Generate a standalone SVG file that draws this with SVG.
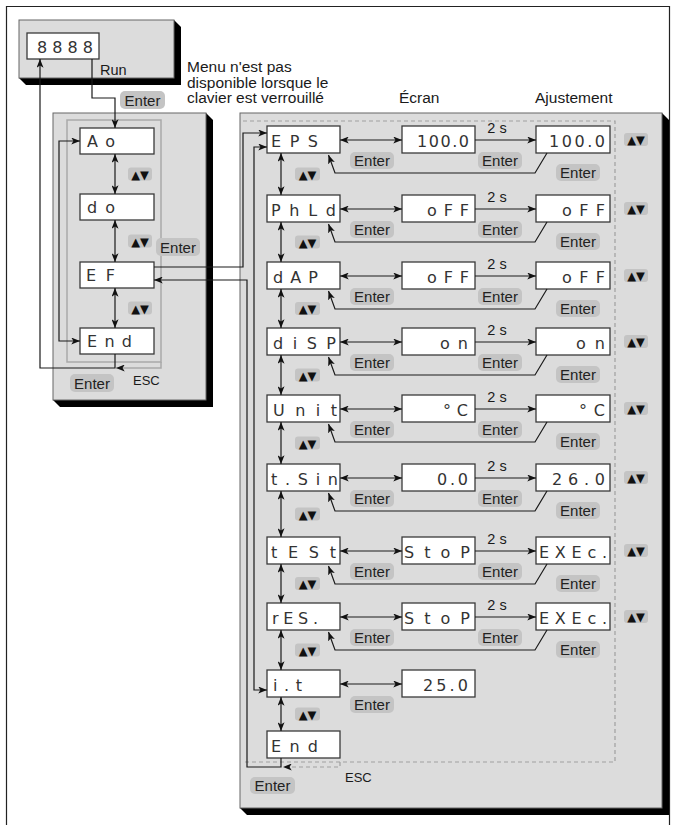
<svg xmlns="http://www.w3.org/2000/svg" width="676" height="825" viewBox="0 0 676 825">
<defs>
<style>
.frame{fill:none;stroke:#222;stroke-width:1.2}
.panel{fill:#dcdcdc;stroke:#666;stroke-width:1}
.shadow{fill:#000}
.box{fill:#fff;stroke:#3a3a3a;stroke-width:1.3}
.lcd{font-family:"DejaVu Sans",sans-serif;font-size:16px;fill:#333}
.lbl{font-family:"Liberation Sans",Arial,sans-serif;fill:#1a1a1a}
.badge{fill:#c4c4c4}
.btn{font-family:"Liberation Sans",Arial,sans-serif;font-size:15px;fill:#222;text-anchor:middle}
.tri{font-family:"DejaVu Sans",sans-serif;font-size:11.5px;fill:#111;text-anchor:middle}
.ln{fill:none;stroke:#1a1a1a;stroke-width:1.2}
.a{marker-end:url(#ah)}
.aa{marker-start:url(#ah);marker-end:url(#ah)}
.gray{fill:none;stroke:#a9a9a9;stroke-width:1.5}
.dash{fill:none;stroke:#a0a0a0;stroke-width:1.2;stroke-dasharray:4 3}
</style>
<marker id="ah" viewBox="0 0 10 8" refX="10" refY="4" markerWidth="9" markerHeight="7" markerUnits="userSpaceOnUse" orient="auto-start-reverse">
<path d="M0,0 L10,4 L0,8 L2.5,4 z" fill="#111"/>
</marker>
</defs>
<rect width="676" height="825" fill="#fff"/>
<path class="frame" d="M6.5,825 V6.5 H669.5 V825"/>

<!-- Panels -->
<g id="panel-run">
<polygon class="shadow" points="174,20 181,27 181,85 26,85 19,78"/>
<rect class="panel" x="19" y="20" width="155" height="58"/>
</g>
<g id="panel-menu">
<polygon class="shadow" points="206,113 213,120 213,407 60,407 53,400"/>
<rect class="panel" x="53" y="113" width="153" height="287"/>
<path class="gray" d="M115,362 H67 V120 H161 V362 H115"/>
</g>
<g id="panel-ef">
<polygon class="shadow" points="662,113 669,120 669,815 247,815 240,808"/>
<rect class="panel" x="240" y="113" width="422" height="695"/>
<path class="dash" d="M243,121 H615 V762 H243"/>
</g>

<!-- Labels -->
<g id="labels" class="lbl">
<text x="187" y="71.5" font-size="15.5">Menu n'est pas</text>
<text x="187" y="87.5" font-size="15.5">disponible lorsque le</text>
<text x="187" y="103" font-size="15.5">clavier est verrouillé</text>
<text x="399" y="103" font-size="15.5">Écran</text>
<text x="535" y="103" font-size="15.5">Ajustement</text>
<text x="100" y="75" font-size="14.5">Run</text>
<text x="133" y="385" font-size="13">ESC</text>
<text x="345" y="782" font-size="13">ESC</text>
</g>

<!-- Nodes: top display and main menu -->
<g id="n-8888"><rect class="box" x="27" y="33" width="72" height="26"/><text class="lcd" x="37" y="53" textLength="56">8888</text></g>
<g id="n-ao"><rect class="box" x="80" y="128" width="74" height="26"/><text class="lcd" x="87" y="147" textLength="28">Ao</text></g>
<g id="n-do"><rect class="box" x="80" y="194" width="74" height="26"/><text class="lcd" x="87" y="213" textLength="28">do</text></g>
<g id="n-ef"><rect class="box" x="80" y="262" width="74" height="26"/><text class="lcd" x="86" y="281" textLength="29">EF</text></g>
<g id="n-end1"><rect class="box" x="80" y="328" width="74" height="26"/><text class="lcd" x="87" y="347" textLength="45">End</text></g>

<!-- Nodes: EF column -->
<g id="n-eps"><rect class="box" x="267" y="126" width="73" height="27"/><text class="lcd" x="271" y="146.5" textLength="47">EPS</text></g>
<g id="n-eps-s"><rect class="box" x="402" y="126" width="73" height="27"/><text class="lcd" x="417" y="146.5" textLength="52">100.0</text></g>
<g id="n-eps-a"><rect class="box" x="536" y="126" width="74" height="27"/><text class="lcd" x="549" y="146.5" textLength="56">100.0</text></g>

<g id="n-phld"><rect class="box" x="267" y="195" width="73" height="27"/><text class="lcd" x="271" y="215.5" textLength="65">PhLd</text></g>
<g id="n-phld-s"><rect class="box" x="402" y="195" width="73" height="27"/><text class="lcd" x="427" y="215.5" textLength="42">oFF</text></g>
<g id="n-phld-a"><rect class="box" x="536" y="195" width="74" height="27"/><text class="lcd" x="562" y="215.5" textLength="43">oFF</text></g>

<g id="n-dap"><rect class="box" x="267" y="262" width="73" height="27"/><text class="lcd" x="273" y="282.5" textLength="45">dAP</text></g>
<g id="n-dap-s"><rect class="box" x="402" y="262" width="73" height="27"/><text class="lcd" x="427" y="282.5" textLength="42">oFF</text></g>
<g id="n-dap-a"><rect class="box" x="536" y="262" width="74" height="27"/><text class="lcd" x="562" y="282.5" textLength="43">oFF</text></g>

<g id="n-disp"><rect class="box" x="267" y="328" width="73" height="27"/><text class="lcd" x="273" y="348.5" textLength="63">diSP</text></g>
<g id="n-disp-s"><rect class="box" x="402" y="328" width="73" height="27"/><text class="lcd" x="440" y="348.5" textLength="28">on</text></g>
<g id="n-disp-a"><rect class="box" x="536" y="328" width="74" height="27"/><text class="lcd" x="576" y="348.5" textLength="29">on</text></g>

<g id="n-unit"><rect class="box" x="267" y="395" width="73" height="27"/><text class="lcd" x="273" y="415.5" textLength="64">Unit</text></g>
<g id="n-unit-s"><rect class="box" x="402" y="395" width="73" height="27"/><text class="lcd" x="443" y="415.5" textLength="25">°C</text></g>
<g id="n-unit-a"><rect class="box" x="536" y="395" width="74" height="27"/><text class="lcd" x="579" y="415.5" textLength="26">°C</text></g>

<g id="n-tsin"><rect class="box" x="267" y="464" width="73" height="27"/><text class="lcd" x="271" y="484.5" textLength="67">t.Sin</text></g>
<g id="n-tsin-s"><rect class="box" x="402" y="464" width="73" height="27"/><text class="lcd" x="437" y="484.5" textLength="31">0.0</text></g>
<g id="n-tsin-a"><rect class="box" x="536" y="464" width="74" height="27"/><text class="lcd" x="552" y="484.5" textLength="53">26.0</text></g>

<g id="n-test"><rect class="box" x="267" y="537" width="73" height="27"/><text class="lcd" x="271" y="557.5" textLength="65">tESt</text></g>
<g id="n-test-s"><rect class="box" x="402" y="537" width="73" height="27"/><text class="lcd" x="404" y="557.5" textLength="66">StoP</text></g>
<g id="n-test-a"><rect class="box" x="536" y="537" width="74" height="27"/><text class="lcd" x="539" y="557.5" textLength="68">EXEc.</text></g>

<g id="n-res"><rect class="box" x="267" y="603" width="73" height="27"/><text class="lcd" x="272" y="623.5" textLength="46">rES.</text></g>
<g id="n-res-s"><rect class="box" x="402" y="603" width="73" height="27"/><text class="lcd" x="404" y="623.5" textLength="66">StoP</text></g>
<g id="n-res-a"><rect class="box" x="536" y="603" width="74" height="27"/><text class="lcd" x="539" y="623.5" textLength="68">EXEc.</text></g>

<g id="n-it"><rect class="box" x="267" y="670" width="73" height="27"/><text class="lcd" x="273" y="690.5" textLength="29">i.t</text></g>
<g id="n-it-s"><rect class="box" x="402" y="670" width="73" height="27"/><text class="lcd" x="423" y="690.5" textLength="45">25.0</text></g>

<g id="n-end2"><rect class="box" x="267" y="731" width="73" height="27"/><text class="lcd" x="271" y="751.5" textLength="47">End</text></g>

<!-- Connectors -->
<g id="connectors">
<path class="ln a" d="M92,59 V98 H115 V128"/>
<path class="ln aa" d="M115,154 V194"/>
<path class="ln aa" d="M115,220 V262"/>
<path class="ln aa" d="M115,288 V328"/>
<path class="ln aa" d="M80,141 H59 V341 H80"/>
<path class="ln a" d="M115,354 V368 H40 V59"/>
<path class="gray a" d="M161,362 V368 H116"/>
<path class="ln a" d="M154,267 H243 V133 H267"/>
<path class="ln a" d="M281,758 V767 H247 V280 H154"/>
<path class="ln aa" d="M267,147 H254 V690 H267"/>
<path class="dash a" d="M340,762 V767 H283"/>

<path class="ln aa" d="M281,153 V195"/>
<path class="ln aa" d="M281,222 V262"/>
<path class="ln aa" d="M281,289 V328"/>
<path class="ln aa" d="M281,355 V395"/>
<path class="ln aa" d="M281,422 V464"/>
<path class="ln aa" d="M281,491 V537"/>
<path class="ln aa" d="M281,564 V603"/>
<path class="ln aa" d="M281,630 V670"/>
<path class="ln aa" d="M281,697 V731"/>

<path class="ln aa" d="M340,140 H402"/><path class="ln a" d="M475,140 H536"/><path class="ln a" d="M547,153 L535,173 H335 L328.5,155"/>
<path class="ln aa" d="M340,209 H402"/><path class="ln a" d="M475,209 H536"/><path class="ln a" d="M547,222 L535,242 H335 L328.5,224"/>
<path class="ln aa" d="M340,276 H402"/><path class="ln a" d="M475,276 H536"/><path class="ln a" d="M547,289 L535,309 H335 L328.5,291"/>
<path class="ln aa" d="M340,342 H402"/><path class="ln a" d="M475,342 H536"/><path class="ln a" d="M547,355 L535,375 H335 L328.5,357"/>
<path class="ln aa" d="M340,409 H402"/><path class="ln a" d="M475,409 H536"/><path class="ln a" d="M547,422 L535,442 H335 L328.5,424"/>
<path class="ln aa" d="M340,478 H402"/><path class="ln a" d="M475,478 H536"/><path class="ln a" d="M547,491 L535,511 H335 L328.5,493"/>
<path class="ln aa" d="M340,551 H402"/><path class="ln a" d="M475,551 H536"/><path class="ln a" d="M547,564 L535,584 H335 L328.5,566"/>
<path class="ln aa" d="M340,617 H402"/><path class="ln a" d="M475,617 H536"/><path class="ln a" d="M547,630 L535,650 H335 L328.5,632"/>
<path class="ln aa" d="M340,684 H402"/>
</g>

<!-- Connector labels -->
<g id="connector-labels">
<rect class="badge" x="120" y="91" width="45" height="18" rx="5"/><text class="btn" x="142.5" y="105.5">Enter</text>
<rect class="badge" x="156" y="238" width="44" height="18" rx="5"/><text class="btn" x="178" y="252.5">Enter</text>
<rect class="badge" x="70" y="374" width="44" height="18" rx="5"/><text class="btn" x="92" y="388.5">Enter</text>
<rect class="badge" x="250" y="777" width="45" height="17" rx="5"/><text class="btn" x="272.5" y="790.5">Enter</text>

<rect class="badge" x="128" y="167.5" width="24" height="13" rx="3"/><text class="tri" x="140" y="178.5">▲▼</text>
<rect class="badge" x="128" y="234.5" width="24" height="13" rx="3"/><text class="tri" x="140" y="245.5">▲▼</text>
<rect class="badge" x="128" y="301.5" width="24" height="13" rx="3"/><text class="tri" x="140" y="312.5">▲▼</text>

<g id="lbl-eps"><text class="lbl" x="497" y="133" font-size="14.5" text-anchor="middle">2 s</text><rect class="badge" x="350" y="152" width="44" height="17" rx="5"/><text class="btn" x="372" y="165.5">Enter</text><rect class="badge" x="478" y="152" width="44" height="17" rx="5"/><text class="btn" x="500" y="165.5">Enter</text><rect class="badge" x="556" y="164" width="44" height="17" rx="5"/><text class="btn" x="578" y="177.5">Enter</text><rect class="badge" x="624" y="133" width="24" height="13" rx="3"/><text class="tri" x="636" y="144">▲▼</text><rect class="badge" x="295" y="167.5" width="25" height="13" rx="3"/><text class="tri" x="307.5" y="178.5">▲▼</text></g>
<g id="lbl-phld"><text class="lbl" x="497" y="202" font-size="14.5" text-anchor="middle">2 s</text><rect class="badge" x="350" y="221" width="44" height="17" rx="5"/><text class="btn" x="372" y="234.5">Enter</text><rect class="badge" x="478" y="221" width="44" height="17" rx="5"/><text class="btn" x="500" y="234.5">Enter</text><rect class="badge" x="556" y="233" width="44" height="17" rx="5"/><text class="btn" x="578" y="246.5">Enter</text><rect class="badge" x="624" y="202" width="24" height="13" rx="3"/><text class="tri" x="636" y="213">▲▼</text><rect class="badge" x="295" y="235.5" width="25" height="13" rx="3"/><text class="tri" x="307.5" y="246.5">▲▼</text></g>
<g id="lbl-dap"><text class="lbl" x="497" y="269" font-size="14.5" text-anchor="middle">2 s</text><rect class="badge" x="350" y="288" width="44" height="17" rx="5"/><text class="btn" x="372" y="301.5">Enter</text><rect class="badge" x="478" y="288" width="44" height="17" rx="5"/><text class="btn" x="500" y="301.5">Enter</text><rect class="badge" x="556" y="300" width="44" height="17" rx="5"/><text class="btn" x="578" y="313.5">Enter</text><rect class="badge" x="624" y="269" width="24" height="13" rx="3"/><text class="tri" x="636" y="280">▲▼</text><rect class="badge" x="295" y="302" width="25" height="13" rx="3"/><text class="tri" x="307.5" y="313">▲▼</text></g>
<g id="lbl-disp"><text class="lbl" x="497" y="335" font-size="14.5" text-anchor="middle">2 s</text><rect class="badge" x="350" y="354" width="44" height="17" rx="5"/><text class="btn" x="372" y="367.5">Enter</text><rect class="badge" x="478" y="354" width="44" height="17" rx="5"/><text class="btn" x="500" y="367.5">Enter</text><rect class="badge" x="556" y="366" width="44" height="17" rx="5"/><text class="btn" x="578" y="379.5">Enter</text><rect class="badge" x="624" y="335" width="24" height="13" rx="3"/><text class="tri" x="636" y="346">▲▼</text><rect class="badge" x="295" y="368.5" width="25" height="13" rx="3"/><text class="tri" x="307.5" y="379.5">▲▼</text></g>
<g id="lbl-unit"><text class="lbl" x="497" y="402" font-size="14.5" text-anchor="middle">2 s</text><rect class="badge" x="350" y="421" width="44" height="17" rx="5"/><text class="btn" x="372" y="434.5">Enter</text><rect class="badge" x="478" y="421" width="44" height="17" rx="5"/><text class="btn" x="500" y="434.5">Enter</text><rect class="badge" x="556" y="433" width="44" height="17" rx="5"/><text class="btn" x="578" y="446.5">Enter</text><rect class="badge" x="624" y="402" width="24" height="13" rx="3"/><text class="tri" x="636" y="413">▲▼</text><rect class="badge" x="295" y="436.5" width="25" height="13" rx="3"/><text class="tri" x="307.5" y="447.5">▲▼</text></g>
<g id="lbl-tsin"><text class="lbl" x="497" y="471" font-size="14.5" text-anchor="middle">2 s</text><rect class="badge" x="350" y="490" width="44" height="17" rx="5"/><text class="btn" x="372" y="503.5">Enter</text><rect class="badge" x="478" y="490" width="44" height="17" rx="5"/><text class="btn" x="500" y="503.5">Enter</text><rect class="badge" x="556" y="502" width="44" height="17" rx="5"/><text class="btn" x="578" y="515.5">Enter</text><rect class="badge" x="624" y="471" width="24" height="13" rx="3"/><text class="tri" x="636" y="482">▲▼</text><rect class="badge" x="295" y="507.5" width="25" height="13" rx="3"/><text class="tri" x="307.5" y="518.5">▲▼</text></g>
<g id="lbl-test"><text class="lbl" x="497" y="544" font-size="14.5" text-anchor="middle">2 s</text><rect class="badge" x="350" y="563" width="44" height="17" rx="5"/><text class="btn" x="372" y="576.5">Enter</text><rect class="badge" x="478" y="563" width="44" height="17" rx="5"/><text class="btn" x="500" y="576.5">Enter</text><rect class="badge" x="556" y="575" width="44" height="17" rx="5"/><text class="btn" x="578" y="588.5">Enter</text><rect class="badge" x="624" y="544" width="24" height="13" rx="3"/><text class="tri" x="636" y="555">▲▼</text><rect class="badge" x="295" y="577" width="25" height="13" rx="3"/><text class="tri" x="307.5" y="588">▲▼</text></g>
<g id="lbl-res"><text class="lbl" x="497" y="610" font-size="14.5" text-anchor="middle">2 s</text><rect class="badge" x="350" y="629" width="44" height="17" rx="5"/><text class="btn" x="372" y="642.5">Enter</text><rect class="badge" x="478" y="629" width="44" height="17" rx="5"/><text class="btn" x="500" y="642.5">Enter</text><rect class="badge" x="556" y="641" width="44" height="17" rx="5"/><text class="btn" x="578" y="654.5">Enter</text><rect class="badge" x="624" y="610" width="24" height="13" rx="3"/><text class="tri" x="636" y="621">▲▼</text><rect class="badge" x="295" y="643.5" width="25" height="13" rx="3"/><text class="tri" x="307.5" y="654.5">▲▼</text></g>
<g id="lbl-it"><rect class="badge" x="350" y="696" width="44" height="17" rx="5"/><text class="btn" x="372" y="709.5">Enter</text><rect class="badge" x="295" y="707.5" width="25" height="13" rx="3"/><text class="tri" x="307.5" y="718.5">▲▼</text></g>
</g>
</svg>
